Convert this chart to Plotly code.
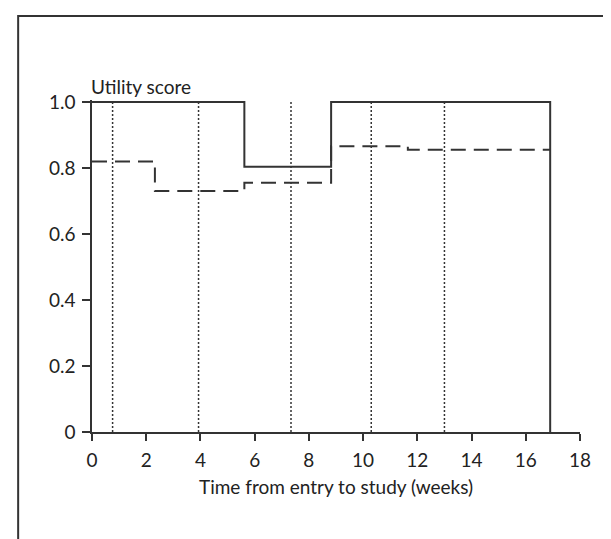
import plotly.graph_objects as go

# Data
solid_times = [0, 5.62, 8.82, 16.9]
solid_values = [1.0, 0.804, 1.0, 0.0]

dashed_times = [0, 2.32, 5.62, 8.82, 11.65, 16.9]
dashed_values = [0.82, 0.73, 0.755, 0.866, 0.855, 0.855]

visit_times = [0.76, 3.93, 7.34, 10.3, 13.0]

x_ticks = list(range(0, 19, 2))
y_ticks = [0, 0.2, 0.4, 0.6, 0.8, 1.0]
y_ticklabels = ["0", "0.2", "0.4", "0.6", "0.8", "1.0"]

FONT = "Lato"
INK = "#333333"
FS = 19

fig = go.Figure()

for t in visit_times:
    fig.add_trace(go.Scatter(
        x=[t, t], y=[0, 1.0], mode="lines",
        line=dict(color=INK, width=1.5, dash="2px,2px"),
        showlegend=False, hoverinfo="skip"))

fig.add_trace(go.Scatter(
    x=dashed_times, y=dashed_values, mode="lines", line_shape="hv",
    line=dict(color=INK, width=2, dash="15px,8px"), showlegend=False))

fig.add_trace(go.Scatter(
    x=solid_times, y=solid_values, mode="lines", line_shape="hv",
    line=dict(color=INK, width=2), showlegend=False))

W, H = 611, 539
ml, mr, mt, mb = 84.3, 39, 92, 115
pw = W - ml - mr
ph = H - mt - mb

fig.update_layout(
    width=W, height=H,
    margin=dict(l=ml, r=mr, t=mt, b=mb, pad=0),
    paper_bgcolor="white", plot_bgcolor="white",
    font=dict(family=FONT, size=FS, color="#222222"),
    xaxis=dict(range=[0, 18], tickvals=x_ticks, ticks="outside", ticklen=7,
               tickwidth=1.5, tickcolor=INK, showline=True, linecolor=INK,
               linewidth=1.5, showgrid=False, zeroline=False,
               ticklabelstandoff=3, tickfont=dict(size=FS)),
    yaxis=dict(range=[0, 1.006], tickvals=y_ticks, ticktext=y_ticklabels,
               ticks="outside", ticklen=8, tickwidth=1.5, tickcolor=INK,
               showline=True, linecolor=INK, linewidth=1.5, showgrid=False,
               zeroline=False, ticklabelstandoff=3, tickfont=dict(size=FS)),
    showlegend=False,
)

fig.add_annotation(text="Utility score", xref="paper", yref="paper",
                   x=(81 - ml) / pw, y=(H - mb - 79) / ph,
                   xanchor="left", yanchor="middle", showarrow=False,
                   font=dict(size=FS))
fig.add_annotation(text="Time from entry to study (weeks)", xref="x", yref="paper",
                   x=9, y=(H - mb - 478) / ph, xanchor="center", yanchor="middle",
                   showarrow=False, font=dict(size=FS))

# outer frame (extends past the right and bottom edges of the picture)
fig.add_shape(type="rect", xref="paper", yref="paper",
              x0=(10.5 - ml) / pw, x1=2.0,
              y0=-2.0, y1=(H - mb - 8) / ph,
              line=dict(color=INK, width=2), layer="above")

fig.write_html("out.html")
